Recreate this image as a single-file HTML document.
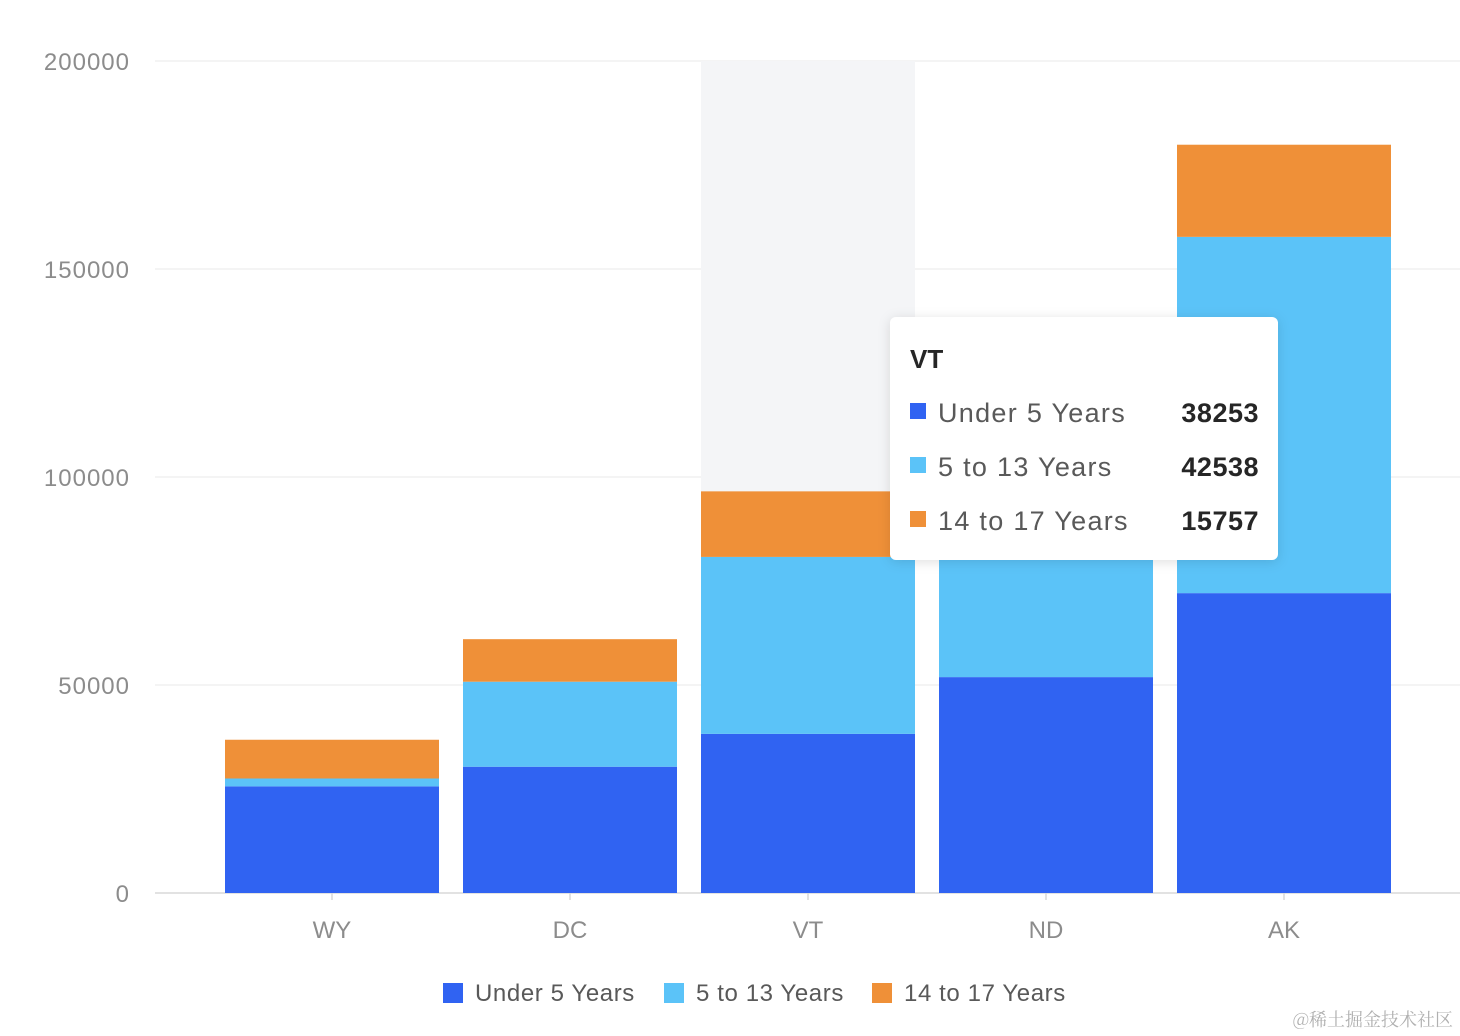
<!DOCTYPE html>
<html><head><meta charset="utf-8">
<style>
html,body{margin:0;padding:0;background:#fff;}
body{width:1460px;height:1036px;overflow:hidden;font-family:"Liberation Sans","Noto Sans CJK SC",sans-serif;}
</style></head>
<body>
<svg id="chart" width="1460" height="1036" xmlns="http://www.w3.org/2000/svg" style="position:absolute;left:0;top:0"></svg>
<script>
const categories = ["WY","DC","VT","ND","AK"];
const under5 = [25635,30352,38253,51896,72083];
const age5to13 = [1890,20439,42538,67358,85640];
const age14to17 = [9314,10225,15757,18794,22153];
const yTicks = [0,50000,100000,150000,200000];
const seriesNames = ["Under 5 Years","5 to 13 Years","14 to 17 Years"];
const seriesColors = ["#3063f2","#5bc3f8","#ef9038"];
const activeIndex = 2;

const NS="http://www.w3.org/2000/svg";
const svg=document.getElementById('chart');
const y0=893,y1=61,yMax=200000;
const y=v=>y0-(v/yMax)*(y0-y1);
const xCenter=i=>332+i*238;
const barW=214;
function mk(tag,attrs,parent){const e=document.createElementNS(NS,tag);for(const k in attrs)e.setAttribute(k,attrs[k]);(parent||svg).appendChild(e);return e;}

yTicks.forEach(t=>{
  const g=mk('line',{x1:155,x2:1460,y1:y(t),y2:y(t),stroke:t===0?'#d9d9d9':'#eeeeee','stroke-width':t===0?1.5:1.2});
  
  
  const l=mk('text',{x:130,y:y(t)+9,'text-anchor':'end','font-size':24,fill:'#8c8c8c','letter-spacing':1});
  l.textContent=t;
  
  
});
const hb=mk('rect',{x:xCenter(activeIndex)-barW/2,y:y1,width:barW,height:y0-y1,fill:'#f4f5f7'});


const series=[under5,age5to13,age14to17];
categories.forEach((c,i)=>{
  let base=0;
  series.forEach((s,k)=>{
    const r=mk('rect',{x:xCenter(i)-barW/2,y:y(base+s[i]),width:barW,height:y(base)-y(base+s[i]),fill:seriesColors[k]});
    
    
    base+=s[i];
  });
  const tk=mk('line',{x1:xCenter(i),x2:xCenter(i),y1:y0,y2:y0+7,stroke:'#d9d9d9','stroke-width':1.5});
  
  
  const t=mk('text',{x:xCenter(i),y:938,'text-anchor':'middle','font-size':24,fill:'#8c8c8c'});
  t.textContent=c;
  
  
});
const legX=[443,664,872];
seriesNames.forEach((n,k)=>{
  const g=mk('g',{});
  
  
  mk('rect',{x:legX[k],y:983,width:20,height:20,fill:seriesColors[k]},g);
  const t=mk('text',{x:legX[k]+32,y:1001,'font-size':24,fill:'#595959','letter-spacing':0.6},g);
  t.textContent=n;
});
const tg=mk('g',{});


mk('defs',{}).innerHTML='<filter id="sh" x="-10%" y="-10%" width="120%" height="130%"><feDropShadow dx="0" dy="2" stdDeviation="6" flood-color="#000" flood-opacity="0.12"/></filter>';
mk('rect',{x:890,y:317,width:388,height:243,rx:6,fill:'#fff',filter:'url(#sh)'},tg);
const tt=mk('text',{x:910,y:368,'font-size':26,fill:'#262626','font-weight':'bold'},tg);
tt.textContent=categories[activeIndex];
series.forEach((s,k)=>{
  const yy=412+k*54;
  mk('rect',{x:910,y:yy-9,width:16,height:16,fill:seriesColors[k]},tg);
  const a=mk('text',{x:938,y:yy+10,'font-size':27,fill:'#595959','letter-spacing':1.3},tg);a.textContent=seriesNames[k];
  const b=mk('text',{x:1259,y:yy+10,'font-size':27,fill:'#262626','text-anchor':'end','font-weight':'600','letter-spacing':0.5},tg);b.textContent=s[activeIndex];
});
const w=mk('text',{x:1453,y:1026,'text-anchor':'end','font-size':18,fill:'#b0b0b0','font-family':'"Noto Serif CJK SC",serif'});
w.textContent='@稀土掘金技术社区';


</script>
</body></html>
